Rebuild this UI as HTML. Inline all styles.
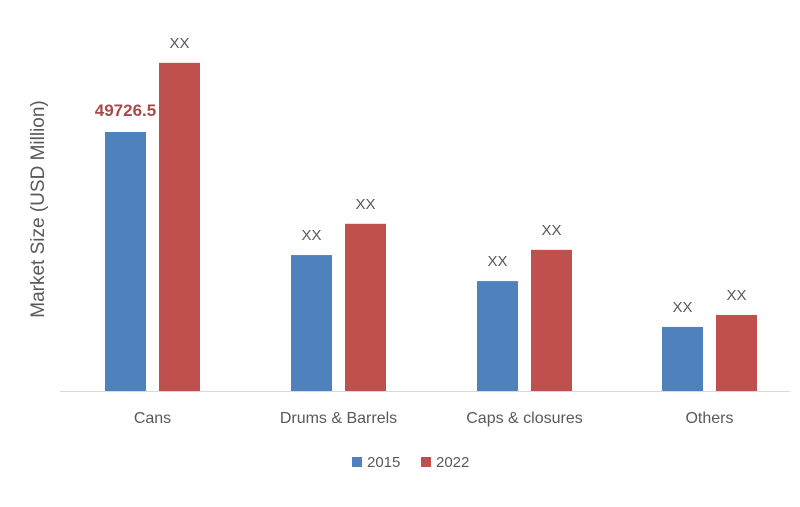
<!DOCTYPE html>
<html><head><meta charset="utf-8"><style>
html,body{margin:0;padding:0;background:#fff;}
svg{display:block;font-family:"Liberation Sans",sans-serif;}
</style></head><body>
<svg id="chart" width="800" height="507" viewBox="0 0 800 507">
<text x="44" y="209" transform="rotate(-90 44 209)" text-anchor="middle" font-size="19" fill="#595959">Market Size (USD Million)</text>
<line x1="60" y1="391.5" x2="790" y2="391.5" stroke="#d9d9d9" stroke-width="1"/>
<g id="bars"></g>
<g>
<rect x="352" y="457" width="10" height="10" fill="#4f81bd"/>
<text x="367" y="467" font-size="15" fill="#595959">2015</text>
<rect x="421" y="457" width="10" height="10" fill="#c0504d"/>
<text x="436" y="467" font-size="15" fill="#595959">2022</text>
</g>
</svg>
<script>
const categories = ["Cans", "Drums & Barrels", "Caps & closures", "Others"];
const values2015 = [49726.5, 26100, 21100, 12300];
const values2022 = [63000, 32100, 27100, 14600];
const labels2015 = ["49726.5", "XX", "XX", "XX"];
const labels2022 = ["XX", "XX", "XX", "XX"];

const NS = "http://www.w3.org/2000/svg";
const g = document.getElementById("bars");
const baseY = 391, pxPerUnit = 259 / 49726.5;
const groupStart = [105, 291, 477, 662], barW = 41, gap = 13;
function yScale(v){ return baseY - v * pxPerUnit; }
function mk(tag, attrs){ const e = document.createElementNS(NS, tag); for (const k in attrs) e.setAttribute(k, attrs[k]); return e; }
categories.forEach((c, i) => {
  const x1 = groupStart[i], x2 = x1 + barW + gap;
  const y1 = yScale(values2015[i]), y2 = yScale(values2022[i]);
  const b1 = mk("rect", {x: x1, y: y1, width: barW, height: baseY - y1, fill: "#4f81bd"});
  
  
  g.appendChild(b1);
  const first = i === 0;
  const t1 = mk("text", {x: x1 + barW/2, y: y1 - (first ? 16 : 15), "text-anchor": "middle", "font-size": first ? 17 : 15, "font-weight": first ? "bold" : "normal", fill: first ? "#a84a48" : "#595959"});
  t1.textContent = labels2015[i];
  
  
  g.appendChild(t1);
  const b2 = mk("rect", {x: x2, y: y2, width: barW, height: baseY - y2, fill: "#c0504d"});
  
  
  g.appendChild(b2);
  const t2 = mk("text", {x: x2 + barW/2, y: y2 - 15, "text-anchor": "middle", "font-size": 15, fill: "#595959"});
  t2.textContent = labels2022[i];
  
  
  g.appendChild(t2);
  const cl = mk("text", {x: x1 + barW + gap/2, y: 423, "text-anchor": "middle", "font-size": 16, fill: "#595959"});
  cl.textContent = c;
  
  
  g.appendChild(cl);
});
</script>
</body></html>
